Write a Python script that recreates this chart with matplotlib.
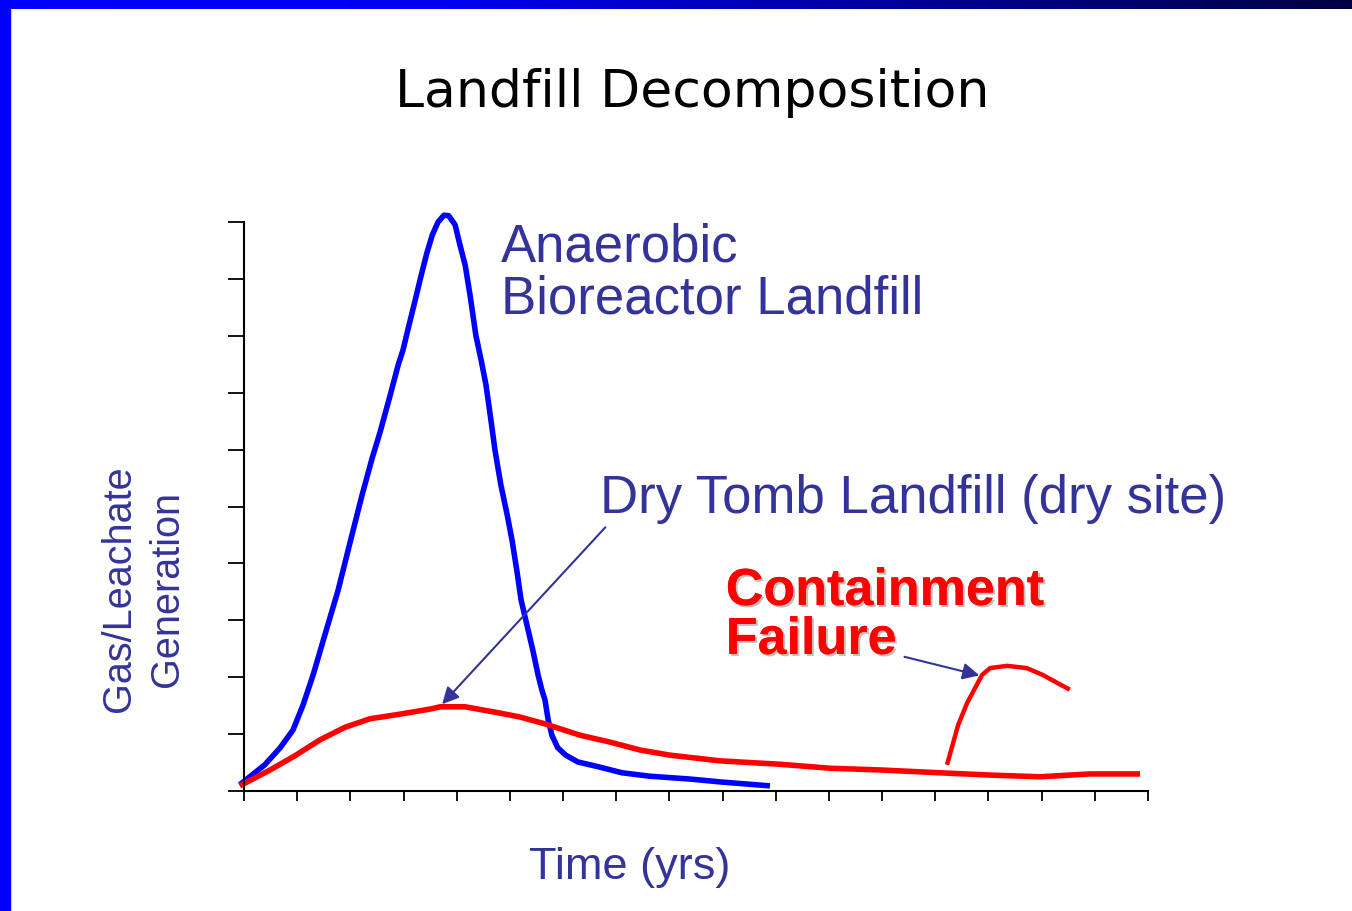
import numpy as np
import matplotlib
matplotlib.use("Agg")
import matplotlib.pyplot as plt
import matplotlib.patheffects as pe

# curves (x in tick units, y in tick units)
bio_x = [-0.08, 0.39, 0.68, 0.92, 1.11, 1.30, 1.52, 1.77, 2.03, 2.22, 2.41, 2.56, 2.75, 2.90,
         2.99, 3.08, 3.22, 3.31, 3.44, 3.54, 3.65, 3.76, 3.85, 3.97, 4.06, 4.16, 4.25, 4.36,
         4.46, 4.55, 4.63, 4.72, 4.83, 4.95, 5.04, 5.13, 5.21, 5.32, 5.43, 5.53, 5.60, 5.66,
         5.72, 5.79, 5.90, 6.05, 6.28, 6.69, 7.11, 7.63, 8.39, 8.95, 9.89]
bio_y = [0.11, 0.46, 0.76, 1.07, 1.51, 2.04, 2.74, 3.53, 4.50, 5.20, 5.85, 6.31, 6.96, 7.49,
         7.75, 8.10, 8.63, 8.98, 9.46, 9.77, 10.00, 10.12, 10.11, 9.95, 9.60, 9.24, 8.72, 8.01,
         7.57, 7.14, 6.61, 5.99, 5.38, 4.85, 4.41, 3.88, 3.36, 2.92, 2.48, 2.04, 1.78, 1.60,
         1.25, 0.98, 0.76, 0.63, 0.51, 0.42, 0.32, 0.26, 0.21, 0.16, 0.09]

dry_x = [-0.08, 0.49, 0.96, 1.43, 1.90, 2.37, 2.93, 3.50, 3.69, 4.16, 4.81, 5.19, 5.66, 6.32,
         6.88, 7.45, 8.01, 8.95, 10.08, 11.02, 11.96, 13.09, 14.03, 14.97, 15.91, 16.85]
dry_y = [0.09, 0.37, 0.62, 0.90, 1.12, 1.27, 1.35, 1.44, 1.48, 1.48, 1.37, 1.30, 1.18, 0.98,
         0.86, 0.72, 0.63, 0.53, 0.47, 0.40, 0.37, 0.32, 0.28, 0.25, 0.30, 0.30]

fail_x = [13.22, 13.43, 13.60, 13.88, 14.03, 14.35, 14.72, 15.02, 15.53]
fail_y = [0.46, 1.16, 1.55, 2.04, 2.16, 2.20, 2.16, 2.04, 1.78]

navy = "#333399"
arial = "Liberation Sans"

fig = plt.figure(figsize=(13.52, 9.11), dpi=100)
fig.patch.set_facecolor("white")

# slide frame: gradient bar on top, blue strip on the left
top = fig.add_axes([0, 1 - 9 / 911, 1, 9 / 911])
grad = np.linspace(0, 1, 256).reshape(1, -1)
cmap = matplotlib.colors.LinearSegmentedColormap.from_list("bar", ["#0000ff", "#0000ee", "#000099", "#000040"])
top.imshow(grad, aspect="auto", cmap=cmap, extent=[0, 1, 0, 1])
top.axis("off")
fig.patches.append(plt.Rectangle((0, 0), 10 / 1352, 1, transform=fig.transFigure,
                                 color="#0000ff", zorder=0))

ax = fig.add_axes([244 / 1352, 1 - 791 / 911, (1148 - 244) / 1352, (791 - 222) / 911])
ax.plot(bio_x, bio_y, color="#0000ff", lw=4, clip_on=False, solid_capstyle="butt")
ax.plot(dry_x, dry_y, color="#ff0000", lw=4, clip_on=False, solid_capstyle="butt")
ax.plot(fail_x, fail_y, color="#ff0000", lw=3.2, clip_on=False, solid_capstyle="butt")

ax.set_xlim(0, 17)
ax.set_ylim(0, 10)
ax.set_xticks(np.arange(0, 18))
ax.set_yticks(np.arange(0, 11))
ax.set_xticklabels([])
ax.set_yticklabels([])
ax.tick_params(axis="y", direction="out", length=11.5, width=1.3, color="black")
ax.tick_params(axis="x", direction="out", length=7.5, width=1.3, color="black")
for s in ["top", "right"]:
    ax.spines[s].set_visible(False)
for s in ["left", "bottom"]:
    ax.spines[s].set_linewidth(1.5)
    ax.spines[s].set_color("black")

fig.text(692 / 1352, 1 - 93 / 911, "Landfill Decomposition", ha="center", va="center",
         fontsize=37.5, color="black")

# labels placed on their baselines (y in tick units)
ax.text(4.84, 9.30, "Anaerobic", fontsize=38, family=arial, color=navy, va="baseline")
ax.text(4.84, 8.40, "Bioreactor Landfill", fontsize=38, family=arial, color=navy, va="baseline")
ax.text(6.70, 4.88, "Dry Tomb Landfill (dry site)", fontsize=38, family=arial, color=navy,
        va="baseline")
shadow = [pe.withSimplePatchShadow(offset=(1.5, -1.5), shadow_rgbFace="gray", alpha=0.5), pe.Normal()]
ax.text(9.06, 3.27, "Containment", fontsize=37.5, family=arial, fontweight="bold",
        color="#ff0000", va="baseline", path_effects=shadow)
ax.text(9.06, 2.41, "Failure", fontsize=37.5, family=arial, fontweight="bold",
        color="#ff0000", va="baseline", path_effects=shadow)

ax.annotate("", xy=(3.69, 1.49), xytext=(6.83, 4.67),
            arrowprops=dict(arrowstyle="-|>", color=navy, lw=1.5, mutation_scale=25),
            annotation_clip=False)
ax.annotate("", xy=(13.88, 2.02), xytext=(12.37, 2.37),
            arrowprops=dict(arrowstyle="-|>", color=navy, lw=1.5, mutation_scale=25),
            annotation_clip=False)

fig.text(143 / 1352, 1 - 589 / 911, "Gas/Leachate\nGeneration", rotation=90, family=arial,
         ha="center", va="center", fontsize=28.5, color=navy, linespacing=1.35)
fig.text(630 / 1352, 1 - 867 / 911, "Time (yrs)", ha="center", va="center", family=arial,
         fontsize=32.5, color=navy)

fig.savefig("out.png", dpi=100)
